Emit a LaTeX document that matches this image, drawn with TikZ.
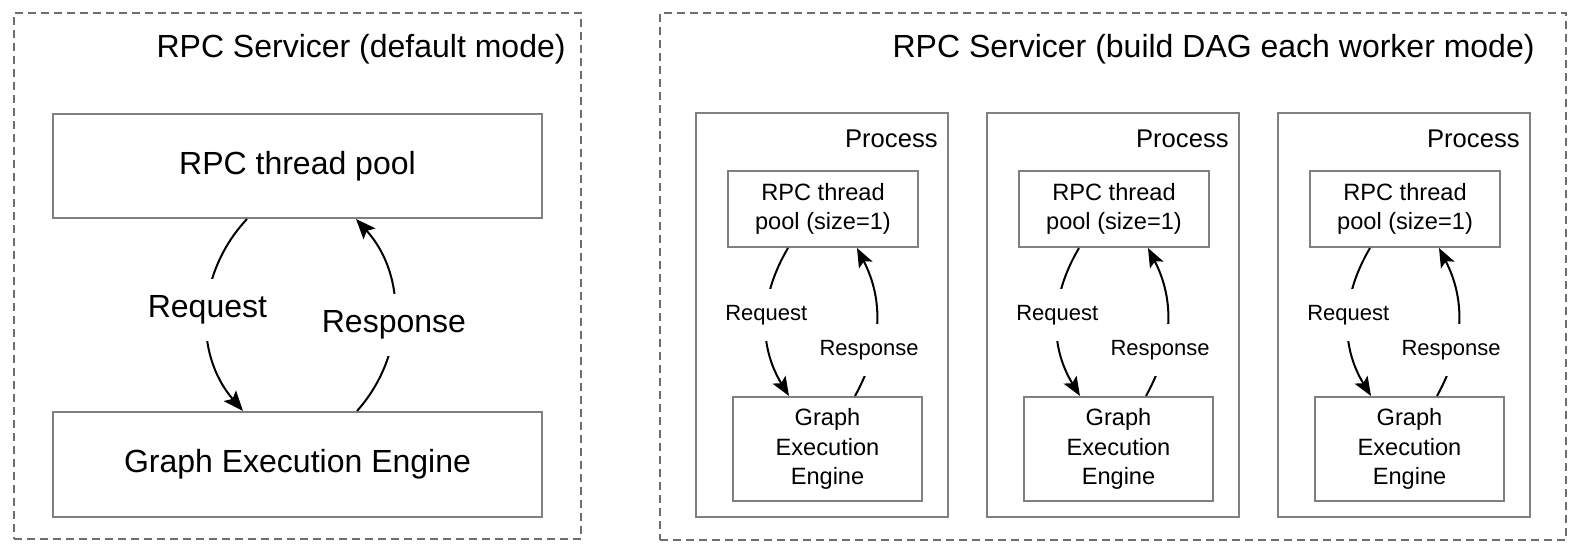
\documentclass[tikz,border=0pt]{standalone}
\usepackage{fontspec}
\setmainfont{Liberation Sans}
\usetikzlibrary{calc,arrows.meta}
\definecolor{boxgray}{HTML}{808080}
\definecolor{dashgray}{HTML}{6E6E6E}
\begin{document}
\begin{tikzpicture}[x=0.5pt,y=-0.5pt,
  container/.style={draw=dashgray, line width=1pt, dash pattern=on 4pt off 2.5pt, inner sep=0pt},
  bigbox/.style={draw=boxgray, line width=1pt, inner sep=0pt, minimum width=244.5pt, font=\fontsize{16}{19}\selectfont},
  procbox/.style={draw=boxgray, line width=1pt, inner sep=0pt, minimum width=126pt, minimum height=202pt},
  smallbox/.style={draw=boxgray, line width=1pt, inner sep=0pt, align=center, font=\fontsize{11.8}{14.6}\selectfont},
  title/.style={inner sep=0pt, anchor=base east, font=\fontsize{16}{19}\selectfont},
  proclabel/.style={inner sep=0pt, anchor=base east, font=\fontsize{12.8}{15}\selectfont},
  bigflow/.style={line width=1pt, -{Stealth[length=10pt,width=8pt,inset=2pt]}},
  smallflow/.style={line width=1pt, -{Stealth[length=9.5pt,width=7.5pt,inset=2pt]}},
  biglabel/.style={fill=white, inner xsep=2pt, inner ysep=8.5pt, font=\fontsize{16}{19}\selectfont},
  smalllabel/.style={fill=white, inner xsep=2pt, inner ysep=8pt, font=\fontsize{11}{13}\selectfont},
]
\useasboundingbox (0,0) rectangle (1584,552);
% left container
\node[container, minimum width=283.5pt, minimum height=263pt] (LC) at (297.5,276) {};
\node[title] (LT) at (566,57) {RPC Servicer (default mode)};
\node[bigbox, minimum height=52pt] (L1) at (297.5,166) {RPC thread pool};
\node[bigbox, minimum height=52.5pt] (L2) at (297.5,464.5) {Graph Execution Engine};
\draw[bigflow] ($(L1.south)+(-50.5,0)$) to[bend right=42] node[biglabel,pos=0.48]{Request} ($(L2.north)+(-54.5,0)$);
\draw[bigflow] ($(L2.north)+(59.5,0)$) to[bend right=42] node[biglabel,pos=0.45]{Response} ($(L1.south)+(58.5,0)$);
% right container
\node[container, minimum width=453pt, minimum height=263.5pt] (RC) at (1113,276.5) {};
\node[title] (RT) at (1535,57) {RPC Servicer (build DAG each worker mode)};
\foreach \i/\px in {1/696,2/987,3/1278}{
  \node[procbox] (P\i) at (\px+126,315) {};
  \node[proclabel] (PT\i) at (\px+242,147) {Process};
  \node[smallbox, minimum width=95pt, minimum height=38pt] (R\i) at (\px+127,209) {RPC thread\\pool (size=1)};
  \node[smallbox, minimum width=94.5pt, minimum height=52pt] (G\i) at (\px+131.5,449) {Graph\\Execution\\Engine};
  \draw[smallflow] ($(R\i.south)+(-35,0)$) to[bend right=31] node[smalllabel,pos=0.45]{Request} ($(G\i.north)+(-38.5,0)$);
  \draw[smallflow] ($(G\i.north)+(27.5,0)$) to[bend right=28] node[smalllabel,pos=0.31,xshift=-2pt]{Response} ($(R\i.south)+(34,0)$);
}
\end{tikzpicture}
\end{document}
